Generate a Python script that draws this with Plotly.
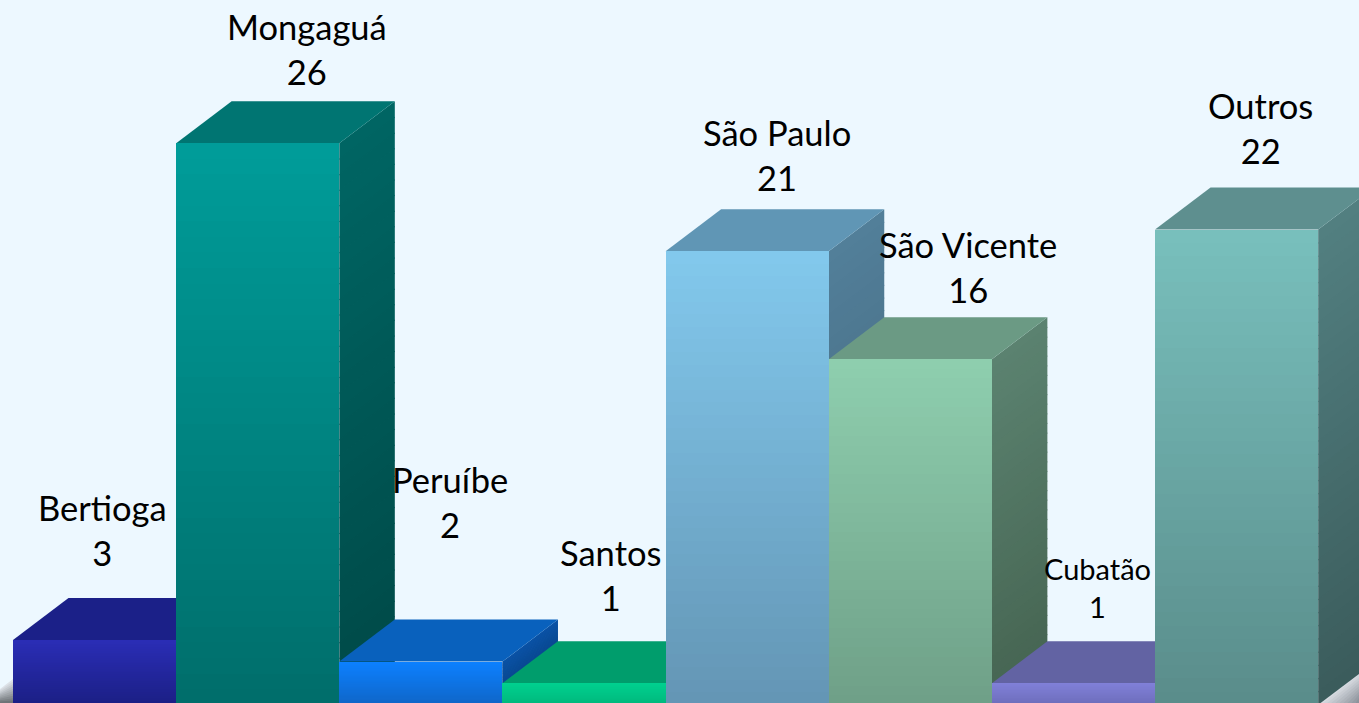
import plotly.graph_objects as go

cidades = ["Bertioga", "Mongaguá", "Peruíbe", "Santos", "São Paulo", "São Vicente", "Cubatão", "Outros"]
valores = [3, 26, 2, 1, 21, 16, 1, 22]

frente_topo = ["#2A2DB5", "#009C99", "#0C80FF", "#00D08F", "#82C8EC", "#8ECEAE", "#8080D8", "#78BFBC"]
frente_base = ["#1B1F85", "#006E6B", "#0F66C8", "#00B87C", "#6496B5", "#6FA088", "#6D6DBB", "#5A8D8B"]
tampo = ["#1B2088", "#007572", "#0961BD", "#009D6C", "#6096B5", "#6B9A84", "#6263A3", "#5E8F8F"]
lado_topo = ["#1A1D78", "#006563", "#0A52A5", "#008A5A", "#527F99", "#5B8270", "#50508A", "#527F80"]
lado_base = ["#14175C", "#004A48", "#083F80", "#006B46", "#405F75", "#466552", "#3E3E6C", "#3B5C5C"]

rotulo_dx = [8, 49, 29, 26, 30, 58, 24, 24]
rotulo_dy = [110, 94, 159.5, 108, 96.5, 92.5, 96, 101.5]
rotulo_fs = [34.5, 34.5, 34.5, 34.5, 34.5, 34.5, 29, 34.5]

W, H = 1359, 703
PX_X = 163.15
PX_Y = 21.6
X0 = 13
Y0 = 704.8
xr = [-0.5 - X0 / PX_X, -0.5 + (W - X0) / PX_X]
yr = [(Y0 - H) / PX_Y, Y0 / PX_Y]
DX = 55.5 / PX_X
DY = 42 / PX_Y
N = 36


def rgb(h):
    return [int(h[i:i + 2], 16) for i in (1, 3, 5)]


def mix(a, b, t):
    ca, cb = rgb(a), rgb(b)
    return "rgb(%d,%d,%d)" % tuple(round(p + (q - p) * t) for p, q in zip(ca, cb))


fig = go.Figure()

# Lower layer: depth faces, left to right
for i, v in enumerate(valores):
    xl, xm, xb = i - 0.5, i + 0.5, i + 0.5 + DX
    passo = v / N
    folga = 1.0 / PX_Y  # one pixel of overlap hides the seams between bands
    for k in range(N):
        t = k / (N - 1)
        h1 = v * (1 - k / N)
        h0 = max(h1 - passo - folga, 0)
        fig.add_trace(go.Scatter(
            x=[xm, xb, xb, xm, xm], y=[h1, h1 + DY, h0 + DY, h0, h1],
            mode="lines", line=dict(width=0), fill="toself",
            fillcolor=mix(lado_topo[i], lado_base[i], t),
            hoverinfo="skip", showlegend=False))
    fig.add_trace(go.Scatter(
        x=[xl, xl + DX, xb, xm, xl], y=[v, v + DY, v + DY, v, v],
        mode="lines", line=dict(width=0), fill="toself", fillcolor=tampo[i],
        hoverinfo="skip", showlegend=False))

# Upper layer: front faces through bars
for k in range(N):
    t = k / (N - 1)
    fig.add_trace(go.Bar(
        x=list(range(len(valores))), y=[v * (1 - k / N) for v in valores], width=1,
        marker=dict(color=[mix(a, b, t) for a, b in zip(frente_topo, frente_base)], line=dict(width=0)),
        xaxis="x2", yaxis="y2", hoverinfo="skip", showlegend=False))

anotacoes = []
for i, (c, v) in enumerate(zip(cidades, valores)):
    anotacoes.append(dict(
        x=i, y=v, xref="x2", yref="y2", text=f"{c}<br>{v}", showarrow=False,
        xshift=rotulo_dx[i], yshift=rotulo_dy[i], xanchor="center", yanchor="middle",
        font=dict(family="Lato, Carlito, sans-serif", size=rotulo_fs[i], color="#000000")))

# Corner shadows of the slide, paper coordinates
sombras = []
for k in range(10):
    t = k / 9
    sombras.append(dict(type="path", xref="paper", yref="paper", layer="below", line=dict(width=0),
                        path=f"M {0.9705 + 0.003 * k} 0 L 1 {0.044 - 0.004 * k} L 1 0 Z",
                        fillcolor=mix("#D8DCE2", "#8E949C", t)))
    sombras.append(dict(type="path", xref="paper", yref="paper", layer="below", line=dict(width=0),
                        path=f"M 0 {0.02 - 0.002 * k} L {0.0096} {0.034 - 0.0034 * k} L {0.0096} 0 L 0 0 Z",
                        fillcolor=mix("#DDE2E8", "#6F7478", t)))

ax = dict(visible=False, fixedrange=True)
fig.update_layout(
    width=W, height=H, margin=dict(l=0, r=0, t=0, b=0),
    paper_bgcolor="#EDF8FF", plot_bgcolor="rgba(0,0,0,0)",
    barmode="overlay", bargap=0, showlegend=False,
    xaxis=dict(range=xr, **ax), yaxis=dict(range=yr, **ax),
    xaxis2=dict(range=xr, overlaying="x", **ax), yaxis2=dict(range=yr, overlaying="y", **ax),
    annotations=anotacoes, shapes=sombras)

fig.write_html("out.html", config=dict(displayModeBar=False),
               post_script="document.body.style.margin='0';document.body.style.overflow='hidden';")
